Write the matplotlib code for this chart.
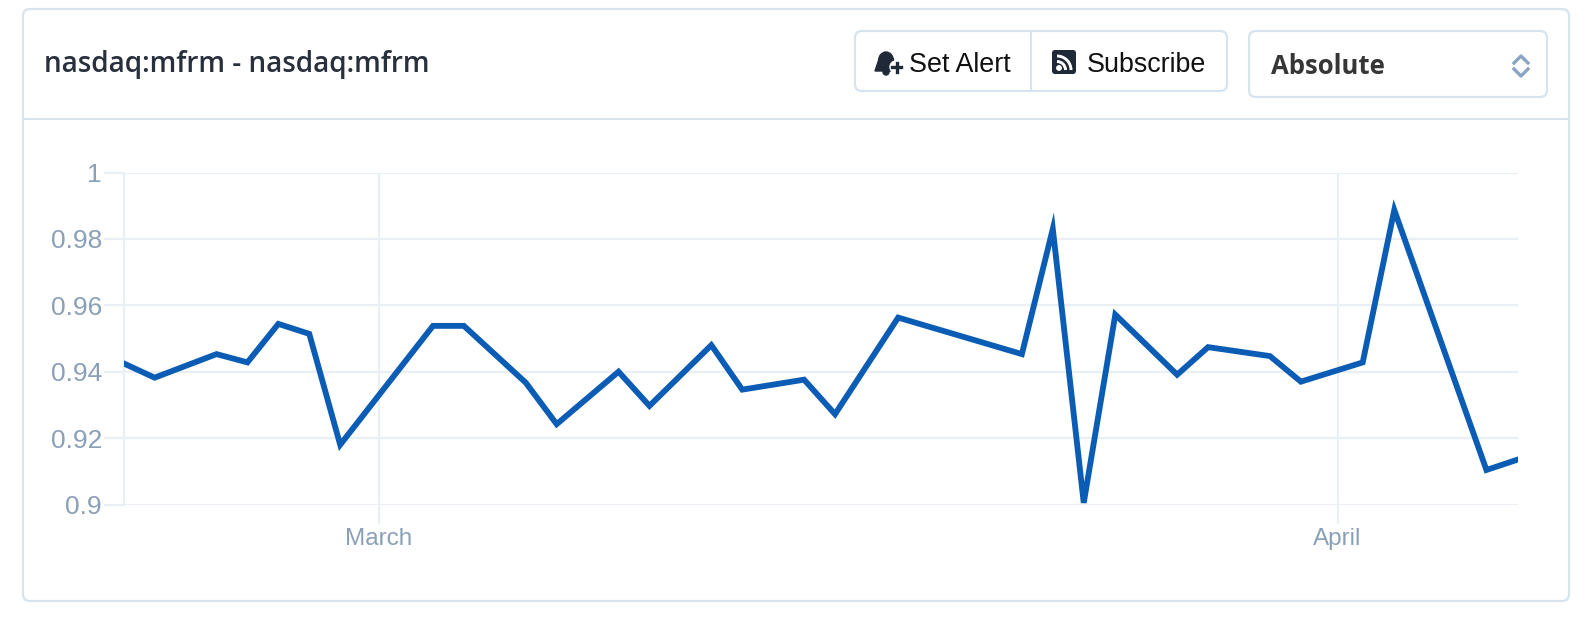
import matplotlib
matplotlib.use('Agg')
import matplotlib.pyplot as plt
from matplotlib.patches import FancyBboxPatch, Ellipse, Arc, Polygon, Circle
import pandas as pd

title = 'nasdaq:mfrm - nasdaq:mfrm'
dates = ['2018-02-20 18:00', '2018-02-21 18:00', '2018-02-23 18:00', '2018-02-24 18:00',
         '2018-02-25 18:00', '2018-02-26 18:00', '2018-02-27 18:00', '2018-03-02 18:00',
         '2018-03-03 18:00', '2018-03-05 18:00', '2018-03-06 18:00', '2018-03-08 18:00',
         '2018-03-09 18:00', '2018-03-11 18:00', '2018-03-12 18:00', '2018-03-14 18:00',
         '2018-03-15 18:00', '2018-03-17 19:00', '2018-03-21 19:00', '2018-03-22 19:00',
         '2018-03-23 19:00', '2018-03-24 19:30', '2018-03-26 19:30', '2018-03-27 19:30',
         '2018-03-29 19:30', '2018-03-30 19:30', '2018-04-01 19:30', '2018-04-02 20:00',
         '2018-04-05 19:30', '2018-04-06 19:30']
values = [0.9425, 0.9382, 0.9453, 0.9428, 0.9544, 0.9514,
          0.9180, 0.9538, 0.9538, 0.9367, 0.9242, 0.9400,
          0.9297, 0.9480, 0.9346, 0.9376, 0.9272, 0.9563,
          0.9453, 0.9830, 0.9005, 0.9572, 0.9391, 0.9474,
          0.9447, 0.9370, 0.9428, 0.9887, 0.9104, 0.9135]
y_ticks = [0.9, 0.92, 0.94, 0.96, 0.98, 1]
y_labels = ['0.9', '0.92', '0.94', '0.96', '0.98', '1']
month_ticks = ['2018-03-01', '2018-04-01']
month_labels = ['March', 'April']

W, H = 1590, 620
BORDER = '#d6e4f0'
GRID = '#e9eff5'
TICK = '#8aa0b8'
DARK = '#1f2937'

fig = plt.figure(figsize=(W / 100, H / 100), dpi=100, facecolor='white')

# page furniture, drawn in pixel coordinates
ui = fig.add_axes([0, 0, 1, 1])
ui.set_xlim(0, W)
ui.set_ylim(H, 0)
ui.axis('off')


def box(x0, y0, x1, y1, r=7, lw=1.6):
    ui.add_patch(FancyBboxPatch((x0 + r, y0 + r), x1 - x0 - 2 * r, y1 - y0 - 2 * r,
                                boxstyle='round,pad=%d,rounding_size=%d' % (r, r),
                                fc='white', ec=BORDER, lw=lw))


box(23, 9, 1569, 601)
ui.plot([23, 1569], [118.7, 118.7], color=BORDER, lw=1.4)
ui.text(44, 72, title, fontsize=20.1, family='Open Sans', weight=600, color='#29303d')

box(855, 31, 1227, 91)
ui.plot([1031, 1031], [31, 91], color=BORDER, lw=1.4)
ui.text(909, 72, 'Set Alert', fontsize=19.4, family='Liberation Sans', color='#111111')
ui.text(1087, 72, 'Subscribe', fontsize=19.4, family='Liberation Sans', color='#111111')

# bell icon
ui.add_patch(Ellipse((886, 61), 15, 18, color=DARK))
ui.add_patch(Polygon([[878, 62], [894, 62], [896, 71], [875, 71]], color=DARK))
ui.add_patch(Circle((886, 72), 3, color=DARK))
ui.add_patch(Circle((896, 67), 6, color='white'))
ui.plot([892, 901], [67, 67], color=DARK, lw=2.4)
ui.plot([896.5, 896.5], [62.5, 71.5], color=DARK, lw=2.4)

# feed icon
ui.add_patch(FancyBboxPatch((1055, 53), 18, 18, boxstyle='round,pad=3,rounding_size=3', fc=DARK, ec='none'))
ui.add_patch(Circle((1059, 68), 2.2, color='white'))
ui.add_patch(Arc((1057, 70), 17, 17, theta1=270, theta2=360, color='white', lw=2.1))
ui.add_patch(Arc((1057, 70), 28, 28, theta1=270, theta2=360, color='white', lw=2.1))

box(1249, 31, 1547, 97)
ui.text(1271, 74, 'Absolute', fontsize=18.5, family='Open Sans', weight='bold', color='#363636')
ui.plot([1514, 1521, 1528], [63, 56, 63], color='#8aa5c4', lw=2.4)
ui.plot([1514, 1521, 1528], [69, 76, 69], color='#8aa5c4', lw=2.4)

# chart
left, right, top, bottom = 123.7, 1518, 172.5, 504.5
ax = fig.add_axes([left / W, 1 - bottom / H, (right - left) / W, (bottom - top) / H])
ax.patch.set_alpha(0)
times = pd.to_datetime(dates)
ax.plot(times, values, color='#0b5cb5', lw=4.2, solid_joinstyle='miter', zorder=3)
ax.set_xlim(times[0], pd.Timestamp('2018-04-06 20:00'))
ax.set_ylim(0.9, 1)

ax.set_yticks(y_ticks, y_labels)
ax.set_xticks(pd.to_datetime(month_ticks), month_labels)
ax.grid(True, color=GRID, lw=1.6)
ax.set_axisbelow(True)
ax.tick_params(axis='y', length=14.7, width=1.6, color=GRID, pad=1, labelsize=19, labelcolor=TICK)
ax.tick_params(axis='x', length=13.7, width=1.6, color=GRID, pad=3, labelsize=17.5, labelcolor=TICK)
for lab in ax.get_xticklabels() + ax.get_yticklabels():
    lab.set_family('Liberation Sans')
for side in ['top', 'right', 'bottom']:
    ax.spines[side].set_visible(False)
ax.spines['left'].set_color(GRID)
ax.spines['left'].set_linewidth(1.6)

fig.savefig('out.png', dpi=100)
